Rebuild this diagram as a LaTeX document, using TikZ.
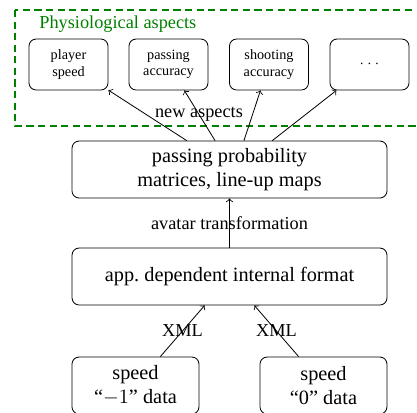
\documentclass[tikz,border=0pt]{standalone}
\usepackage{fontspec}
\setmainfont{Liberation Serif}
\usetikzlibrary{positioning,calc}
\definecolor{AspGreen}{RGB}{0,128,0}
\tikzset{
  box/.style={draw=black,rounded corners=3.5pt,align=center,inner sep=2pt},
  aspect/.style={box,font=\scriptsize,minimum width=1.367cm,minimum height=0.882cm},
  stage/.style={box,minimum width=5.45cm,minimum height=0.986cm},
  source/.style={box,minimum width=2.197cm,minimum height=0.986cm},
}
\tikzset{link/.style={draw=black,->}, lbl/.style={font=\small,inner sep=1pt}}

\begin{document}
\begin{tikzpicture}
\useasboundingbox (0,0) rectangle (7.215,-7.145);
% group of aspects
\draw[AspGreen,thick,dash pattern=on 3.5pt off 2.2pt] (0.26,-0.173) rectangle (9,-2.18);
\node[anchor=west,text=AspGreen,font=\small,inner sep=0pt] (title) at (0.675,-0.415) {Physiological aspects};
\node[aspect] (a1) at (1.185,-1.116) {player\\speed};
\node[aspect] (a2) at (2.915,-1.116) {passing\\accuracy};
\node[aspect] (a3) at (4.654,-1.116) {shooting\\accuracy};
\node[aspect] (a4) at (6.393,-1.116) {$\cdots$};
% processing stages
\node[stage] (pp) at (3.971,-2.933) {passing probability\\matrices, line-up maps};
\node[stage] (app) at (3.971,-4.784) {app.\ dependent internal format};
\node[source] (d1) at (2.344,-6.67) {speed\\``$-1$'' data};
\node[source] (d0) at (5.597,-6.67) {speed\\``0'' data};
% connections
\draw[link] ($(pp.north)+(-0.74,0)$) -- (a1);
\draw[link] ($(pp.north)+(-0.25,0)$) -- (a2);
\draw[link] ($(pp.north)+(0.25,0)$) -- (a3);
\draw[link] ($(pp.north)+(0.74,0)$) -- (a4);
\node[lbl] (na) at (3.443,-1.972) {new aspects};
\draw[link] (app) -- node[lbl] (av) {avatar transformation} (pp);
\draw[link] ($(d1.north)+(0.43,0)$) -- node[lbl] (x1) {XML} ($(app.south)+(-0.43,0)$);
\draw[link] ($(d0.north)+(-0.43,0)$) -- node[lbl] (x0) {XML} ($(app.south)+(0.43,0)$);
\end{tikzpicture}
\end{document}
